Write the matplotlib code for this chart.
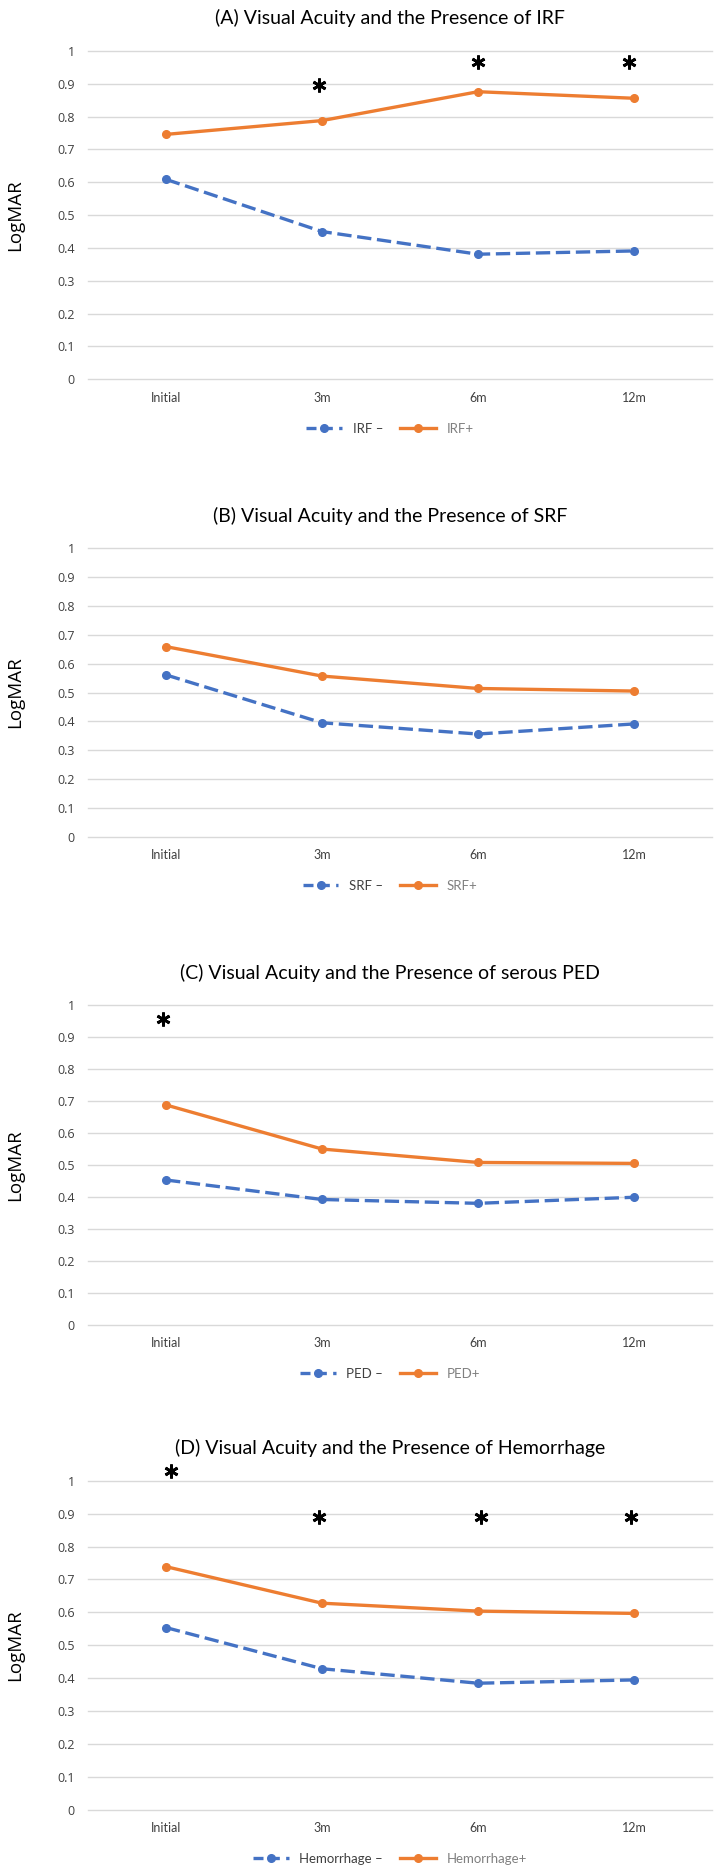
import matplotlib
matplotlib.use('Agg')
import matplotlib.pyplot as plt
from matplotlib.lines import Line2D

# ---------------- data ----------------
categories = ['Initial', '3m', '6m', '12m']
ytick_values = [0, 0.1, 0.2, 0.3, 0.4, 0.5, 0.6, 0.7, 0.8, 0.9, 1.0]
ytick_labels = ['0', '0.1', '0.2', '0.3', '0.4', '0.5', '0.6', '0.7', '0.8', '0.9', '1']

titles = ['(A) Visual Acuity and the Presence of IRF',
          '(B) Visual Acuity and the Presence of SRF',
          '(C) Visual Acuity and the Presence of serous PED',
          '(D) Visual Acuity and the Presence of Hemorrhage']
neg_labels = ['IRF \u2013', 'SRF \u2013', 'PED \u2013', 'Hemorrhage \u2013']
pos_labels = ['IRF+', 'SRF+', 'PED+', 'Hemorrhage+']
y_label = 'LogMAR'

irf_neg = [0.609, 0.450, 0.381, 0.391]
irf_pos = [0.746, 0.788, 0.876, 0.856]
srf_neg = [0.561, 0.395, 0.356, 0.391]
srf_pos = [0.659, 0.557, 0.514, 0.505]
ped_neg = [0.453, 0.392, 0.380, 0.399]
ped_pos = [0.688, 0.550, 0.508, 0.505]
hem_neg = [0.554, 0.429, 0.385, 0.395]
hem_pos = [0.739, 0.628, 0.604, 0.597]

irf_star_x = [0.98, 2.0, 2.97]
irf_star_y = [0.896, 0.967, 0.967]
srf_star_x = []
srf_star_y = []
ped_star_x = [-0.02]
ped_star_y = [0.956]
hem_star_x = [0.03, 0.98, 2.02, 2.98]
hem_star_y = [1.029, 0.891, 0.891, 0.891]

neg_series = [irf_neg, srf_neg, ped_neg, hem_neg]
pos_series = [irf_pos, srf_pos, ped_pos, hem_pos]
stars_x = [irf_star_x, srf_star_x, ped_star_x, hem_star_x]
stars_y = [irf_star_y, srf_star_y, ped_star_y, hem_star_y]

# ---------------- layout / style ----------------
W, H = 720, 1873
BLUE = '#4472C4'
ORANGE = '#ED7D31'
GRID = '#D9D9D9'
TICK = '#404040'
HUMAN = ['Lato', 'DejaVu Sans']
SANS = ['Open Sans', 'DejaVu Sans']

# pixel positions: (axes top, axes bottom, title y, legend y)
panels_px = [(51.0, 379.3, 18.3, 429.0),
             (548.3, 836.7, 516.0, 886.0),
             (1005.3, 1324.7, 972.7, 1374.0),
             (1480.7, 1810.0, 1447.7, 1859.0)]
ax_left, ax_right = 88.0, 712.0
center_x = 390.0
LW = 2.4
MS = 5.5

fig = plt.figure(figsize=(W / 100, H / 100), dpi=100)
fig.patch.set_facecolor('white')

xs = list(range(len(categories)))
for i, (top, bot, ty, ly) in enumerate(panels_px):
    ax = fig.add_axes([ax_left / W, 1 - bot / H, (ax_right - ax_left) / W, (bot - top) / H])
    ax.set_xlim(-0.5, len(categories) - 0.5)
    ax.set_ylim(0, 1)
    for s in ax.spines.values():
        s.set_visible(False)
    ax.set_yticks(ytick_values)
    ax.set_yticklabels(ytick_labels, fontsize=9, color=TICK, family=SANS)
    ax.set_xticks(xs)
    ax.set_xticklabels(categories, fontsize=9, color=TICK, family=HUMAN)
    ax.tick_params(axis='y', length=0, pad=9.5)
    ax.tick_params(axis='x', length=0, pad=9)
    ax.yaxis.grid(True, color=GRID, linewidth=1.0)
    ax.set_axisbelow(True)
    for gl in ax.get_ygridlines():
        gl.set_clip_on(False)

    ax.plot(xs, neg_series[i], color=BLUE, linewidth=LW, dashes=(4.3, 1.7),
            marker='o', markersize=MS, dash_capstyle='butt', zorder=3)
    ax.plot(xs, pos_series[i], color=ORANGE, linewidth=LW,
            marker='o', markersize=MS, zorder=3)

    if stars_x[i]:
        ax.plot(stars_x[i], stars_y[i], linestyle='none', marker=(6, 2, 0),
                markersize=10, markeredgewidth=2.0, color='black', clip_on=False, zorder=4)

    fig.text(15 / W, 1 - (top + bot) / 2 / H, y_label, rotation=90, ha='center', va='center',
             fontsize=13.5, color='black', family=SANS)

    fig.text(center_x / W, 1 - ty / H, titles[i], ha='center', va='center',
             fontsize=14, color='black', family=HUMAN)

    handles = [Line2D([], [], color=BLUE, linewidth=LW, dashes=(3.0, 1.9), marker='o', markersize=MS),
               Line2D([], [], color=ORANGE, linewidth=LW, marker='o', markersize=MS)]
    leg = ax.legend(handles, [neg_labels[i], pos_labels[i]], loc='center',
                    bbox_to_anchor=(center_x / W, 1 - ly / H), bbox_transform=fig.transFigure,
                    ncol=2, frameon=False, handlelength=2.7, handletextpad=0.8, columnspacing=1.3,
                    prop={'family': HUMAN, 'size': 9.5})
    leg.get_texts()[0].set_color('#404040')
    leg.get_texts()[1].set_color('#808080')

fig.savefig('out.png', dpi=100, facecolor='white')
